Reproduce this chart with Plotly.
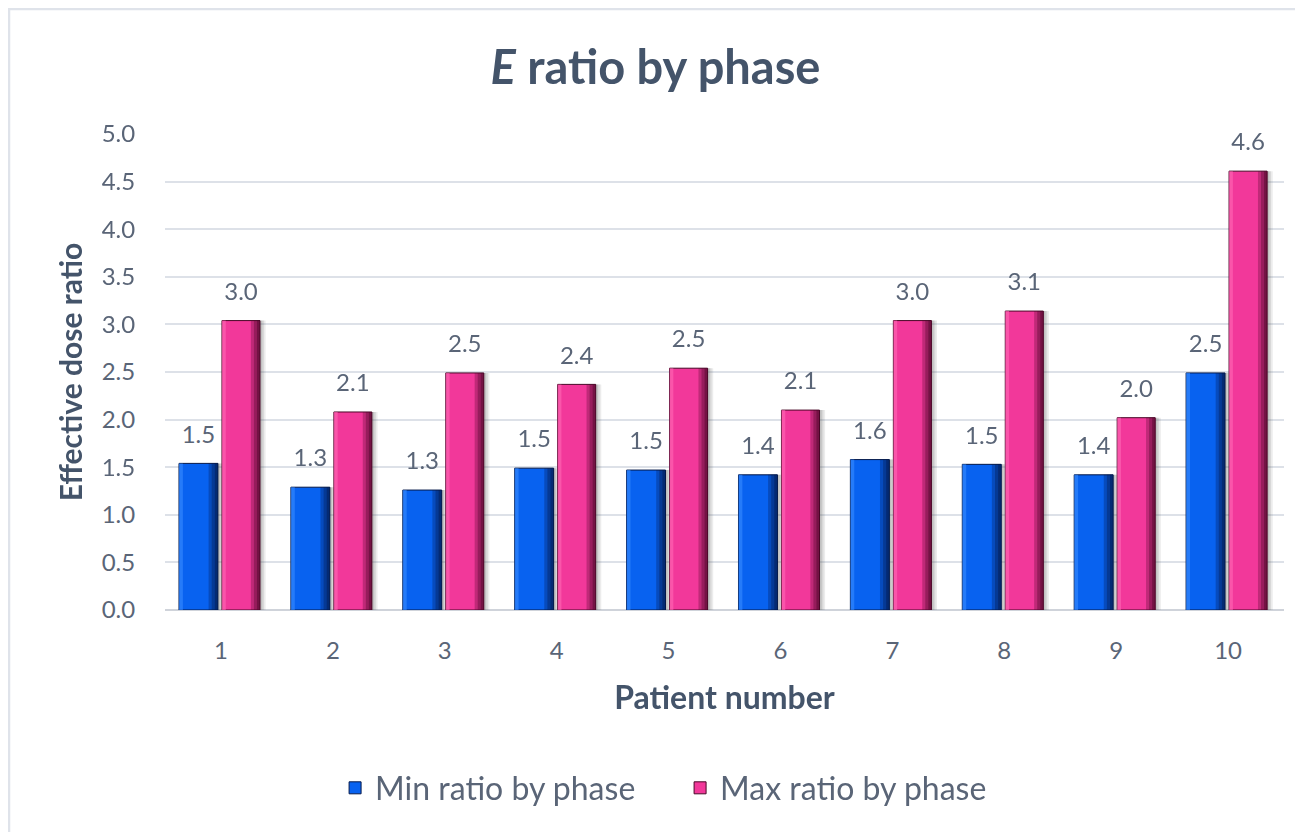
import plotly.graph_objects as go

patients = ["1", "2", "3", "4", "5", "6", "7", "8", "9", "10"]
min_ratio = [1.54, 1.29, 1.26, 1.49, 1.47, 1.42, 1.58, 1.53, 1.42, 2.49]
max_ratio = [3.04, 2.08, 2.49, 2.37, 2.54, 2.10, 3.04, 3.14, 2.02, 4.61]
y_ticks = [0.0, 0.5, 1.0, 1.5, 2.0, 2.5, 3.0, 3.5, 4.0, 4.5, 5.0]

FONT = "Lato"
TXT = "#5a6577"
TITLE_C = "#44546a"
idx = list(range(len(patients)))

series = [
    dict(name="Min ratio by phase", y=min_ratio, off=-0.375, w=0.348,
         dark="#061a4a", body="#0862f0", light="#3a8dff"),
    dict(name="Max ratio by phase", y=max_ratio, off=0.009, w=0.34,
         dark="#4a0828", body="#f2389a", light="#ff6ab6"),
]

fig = go.Figure()

# soft shadows
for s in series:
    for dx, a in [(0.05, 0.10), (0.035, 0.12), (0.02, 0.15)]:
        fig.add_trace(go.Bar(
            x=idx, y=s["y"], offset=s["off"] + dx, width=s["w"],
            marker=dict(color=f"rgba(70,70,70,{a})", line=dict(width=0)),
            showlegend=False, hoverinfo="skip"))

for s in series:
    fig.add_trace(go.Bar(
        x=idx, y=s["y"], offset=s["off"], width=s["w"], name=s["name"],
        marker=dict(color=s["body"], line=dict(color=s["dark"], width=1)),
        showlegend=True, hoverinfo="skip", legendgroup=s["name"]))
    # right bevel gradient
    for f, a in [(0.76, 0.30), (0.84, 0.35), (0.92, 0.45)]:
        fig.add_trace(go.Bar(
            x=idx, y=s["y"], offset=s["off"] + s["w"] * f, width=s["w"] * (1 - f),
            marker=dict(color=s["dark"], line=dict(width=0)), opacity=a,
            showlegend=False, hoverinfo="skip", legendgroup=s["name"]))
    # left highlight
    fig.add_trace(go.Bar(
        x=idx, y=s["y"], offset=s["off"], width=s["w"] * 0.10,
        marker=dict(color=s["light"], line=dict(width=0)), opacity=0.6,
        showlegend=False, hoverinfo="skip", legendgroup=s["name"]))
    # value labels
    fig.add_trace(go.Scatter(
        x=[i + s["off"] + s["w"] / 2 for i in idx], y=s["y"],
        mode="markers+text", marker=dict(size=22, opacity=0),
        text=[f"{v:.1f}" for v in s["y"]], textposition="top center",
        textfont=dict(family=FONT, size=24, color=TXT),
        cliponaxis=False, showlegend=False, hoverinfo="skip"))

fig.update_layout(
    width=1295, height=824,
    barmode="overlay",
    paper_bgcolor="white", plot_bgcolor="white",
    margin=dict(l=157, r=19, t=126, b=222, autoexpand=False),
    title=dict(text="<b><i>E</i> ratio by phase</b>", x=0.5, xanchor="center",
               y=0.928, yanchor="middle",
               font=dict(family=FONT, size=47, color=TITLE_C)),
    xaxis=dict(range=[-0.5, 9.5], tickvals=idx, ticktext=patients,
               showgrid=False, zeroline=False, showline=False,
               ticks="outside", ticklen=19, tickcolor="rgba(0,0,0,0)",
               tickfont=dict(family=FONT, size=24, color=TXT),
               title=dict(text="<b>Patient number</b>", standoff=23,
                          font=dict(family=FONT, size=32, color=TITLE_C))),
    yaxis=dict(range=[0, 5.0], tickvals=y_ticks,
               ticktext=[f"{v:.1f}" for v in y_ticks],
               showgrid=True, gridcolor="#dde1e8", gridwidth=2,
               zeroline=True, zerolinecolor="#cfd3da", zerolinewidth=2,
               showline=False, ticks="outside", ticklen=24,
               tickcolor="rgba(0,0,0,0)",
               tickfont=dict(family=FONT, size=24, color=TXT),
               title=dict(text="<b>Effective dose ratio</b>", standoff=10,
                          font=dict(family=FONT, size=30, color=TITLE_C))),
    legend=dict(orientation="h", x=0.152, xanchor="left", y=-0.374,
                yanchor="middle", font=dict(family=FONT, size=32, color=TXT),
                itemwidth=30, entrywidth=300, traceorder="normal"),
    shapes=[dict(type="rect", xref="paper", yref="paper",
                 x0=-0.1394, x1=1.05, y0=-0.5, y1=1.2626,
                 line=dict(color="#dfe3ea", width=2.5), fillcolor="rgba(0,0,0,0)",
                 layer="below")],
)

fig.write_html("out.html")
